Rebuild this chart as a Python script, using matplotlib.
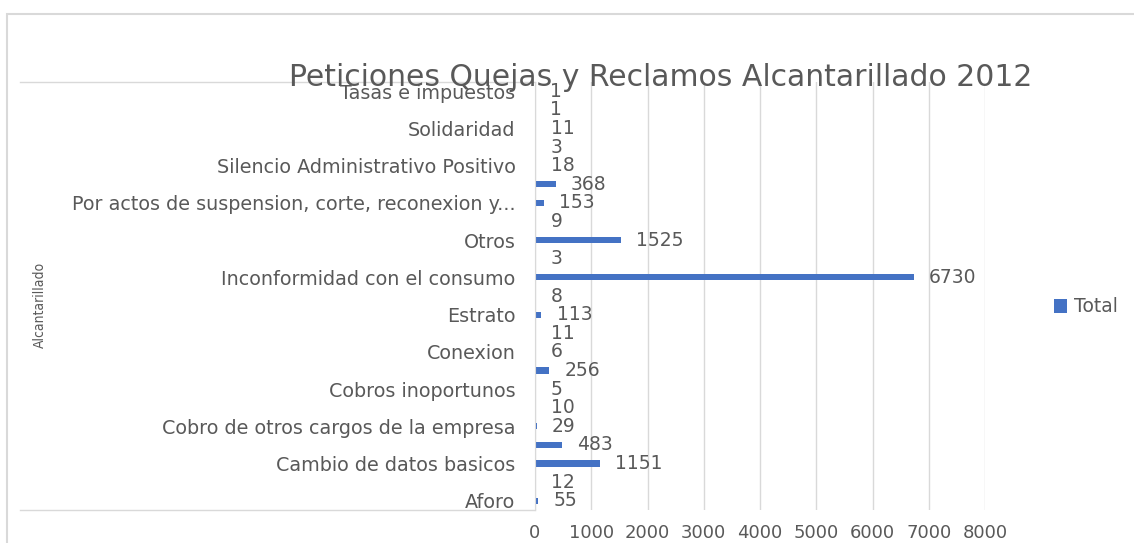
import matplotlib.pyplot as plt
from matplotlib.lines import Line2D
from matplotlib.patches import Rectangle

# categories bottom -> top (every other label is hidden in the chart)
categorias = ['Aforo', 'Calidad del servicio', 'Cambio de datos basicos',
              'Cobro de consumo', 'Cobro de otros cargos de la empresa',
              'Cobro por servicios no prestados', 'Cobros inoportunos',
              'Condiciones de seguridad', 'Conexion', 'Descuentos', 'Estrato',
              'Falla en la prestacion', 'Inconformidad con el consumo',
              'Informacion', 'Otros', 'Pago',
              'Por actos de suspension, corte, reconexion y...',
              'Prestacion del servicio', 'Silencio Administrativo Positivo',
              'Solicitud', 'Solidaridad', 'Subsidio', 'Tasas e impuestos']
total = [55, 12, 1151, 483, 29, 10, 5, 256, 6, 11, 113, 8, 6730, 3, 1525, 9,
         153, 368, 18, 3, 11, 1, 1]
x_ticks = [0, 1000, 2000, 3000, 4000, 5000, 6000, 7000, 8000]

gris = '#595959'
azul = '#4472C4'
W, H = 1134, 543

fig = plt.figure(figsize=(W / 100, H / 100), dpi=100)
ax = fig.add_axes([535 / W, 1 - 510 / H, (985 - 535) / W, (510 - 82) / H])

pos = list(range(len(categorias)))
barras = ax.barh(pos, total, height=0.33, color=azul, label='Total')
ax.bar_label(barras, labels=[str(v) for v in total], padding=11,
             fontsize=13.5, color=gris)

ax.set_ylim(-0.5, len(categorias) - 0.5)
ax.set_xlim(0, 8000)
ax.set_xticks(x_ticks)
ax.set_xticklabels([str(t) for t in x_ticks], fontsize=13, color=gris)
ax.set_yticks(pos)
ax.set_yticklabels([c if i % 2 == 0 else '' for i, c in enumerate(categorias)],
                   fontsize=13.8, color=gris)
ax.tick_params(axis='y', length=0, pad=14)
ax.tick_params(axis='x', length=0, pad=10)
ax.grid(axis='x', color='#D9D9D9', linewidth=1)
ax.set_axisbelow(True)
for s in ['top', 'right', 'bottom']:
    ax.spines[s].set_visible(False)
ax.spines['left'].set_color('#D9D9D9')

# table-like lines around the category area
for yy in (82, 510):
    fig.add_artist(Line2D([20 / W, 535 / W], [1 - yy / H, 1 - yy / H],
                          color='#D9D9D9', linewidth=1,
                          transform=fig.transFigure))
# chart area border
fig.add_artist(Rectangle((7 / W, -0.05), 1.2, 1 - 14 / H + 0.05,
                         fill=False, edgecolor='#D9D9D9', linewidth=1.5,
                         transform=fig.transFigure))

fig.text(661 / W, 1 - 78 / H, 'Peticiones Quejas y Reclamos Alcantarillado 2012',
         ha='center', va='center', fontsize=21.5, color=gris)
fig.text(40 / W, 1 - 305 / H, 'Alcantarillado', rotation=90, ha='center',
         va='center', fontsize=10, color=gris, family='DejaVu Sans',
         fontstretch='condensed')
fig.legend(handles=[barras], loc='center left',
           bbox_to_anchor=(1037 / W, 1 - 307 / H), frameon=False,
           fontsize=13.5, labelcolor=gris, handlelength=0.7, handleheight=0.7,
           handletextpad=0.35)

fig.savefig('out.png', dpi=100)
